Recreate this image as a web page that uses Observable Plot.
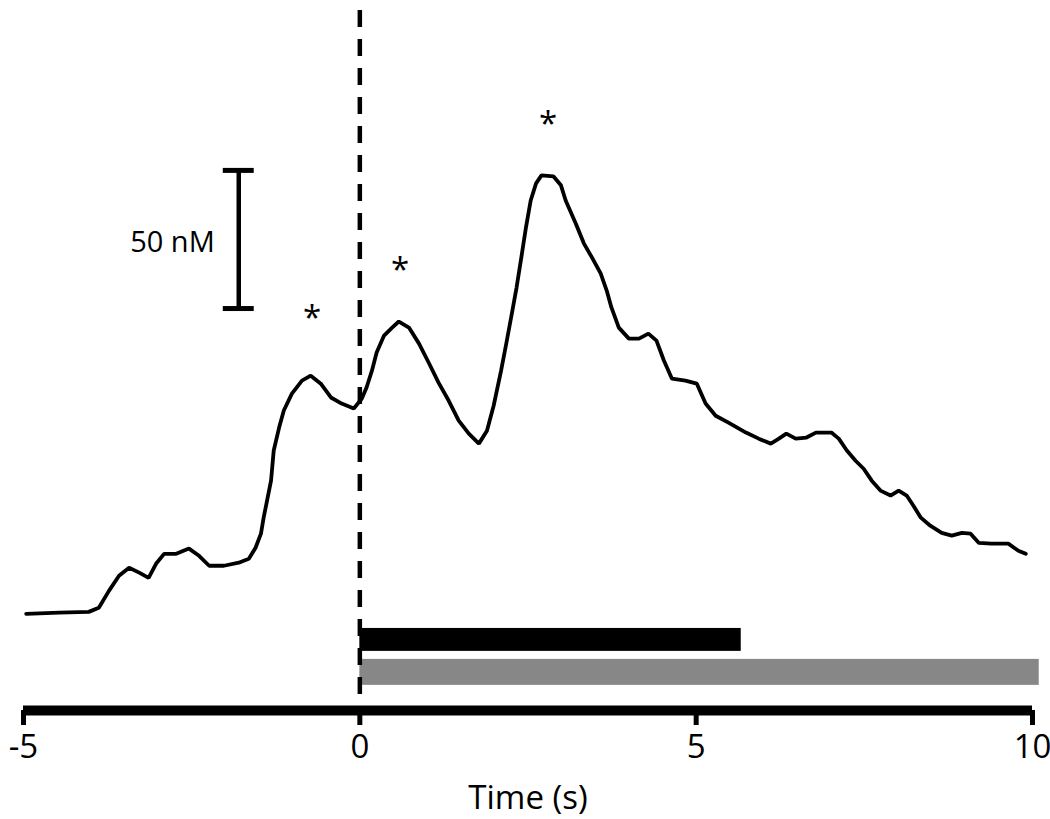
<!DOCTYPE html>
<html>
<head>
<meta charset="utf-8">
<script src="https://cdn.jsdelivr.net/npm/d3@7"></script>
<script src="https://cdn.jsdelivr.net/npm/@observablehq/plot@0.6"></script>
<style>
  html, body { margin: 0; padding: 0; background: #fff; }
  #chart svg { display: block; }
</style>
</head>
<body>
<div id="chart"></div>
<script>
// ---- Data ----
const time = [
  -4.96, -4.47, -4.03, -3.88, -3.73, -3.58, -3.43, -3.28, -3.14, -3.03, -2.91, -2.73, -2.54, -2.39,
  -2.24, -2.02, -1.80, -1.65, -1.55, -1.47, -1.43, -1.38, -1.32, -1.28, -1.20, -1.13, -1.01, -0.86,
  -0.73, -0.58, -0.43, -0.27, -0.09, 0.03, 0.10, 0.18, 0.25, 0.36, 0.48, 0.58, 0.73, 0.88, 1.03,
  1.17, 1.32, 1.47, 1.62, 1.77, 1.89, 1.99, 2.10, 2.18, 2.26, 2.33, 2.41, 2.47, 2.54, 2.62, 2.70,
  2.88, 2.99, 3.06, 3.21, 3.33, 3.45, 3.58, 3.67, 3.74, 3.85, 4.00, 4.15, 4.29, 4.41, 4.52, 4.64,
  4.84, 5.01, 5.14, 5.29, 5.48, 5.74, 5.93, 6.11, 6.23, 6.34, 6.48, 6.64, 6.78, 7.01, 7.12, 7.24,
  7.37, 7.49, 7.61, 7.74, 7.89, 8.01, 8.13, 8.23, 8.34, 8.48, 8.65, 8.80, 8.95, 9.08, 9.20, 9.39,
  9.64, 9.79, 9.90
];
const conc = [
  0, 0.4, 0.7, 2.2, 8.3, 13.8, 16.7, 14.9, 13.0, 18.1, 21.7, 21.7, 23.6, 21.0,
  17.4, 17.4, 18.5, 19.9, 23.9, 29.0, 34.8, 40.9, 48.2, 59.1, 67.4, 73.6, 79.7, 84.4,
  86.2, 83.3, 78.3, 76.1, 74.3, 77.9, 81.9, 88.0, 94.6, 100.7, 103.6, 105.8, 103.6, 97.8, 90.6,
  83.7, 77.2, 69.9, 65.2, 61.6, 66.3, 75.4, 88.0, 98.2, 108.7, 118.1, 130.4, 139.9, 149.6, 155.8, 158.7,
  158.3, 155.1, 149.6, 141.3, 134.1, 129.0, 123.2, 117.0, 110.9, 103.6, 99.6, 99.6, 101.4, 98.9, 91.7, 85.1,
  84.4, 83.3, 76.1, 71.7, 69.2, 65.6, 63.4, 61.6, 63.4, 65.2, 63.4, 63.8, 65.6, 65.6, 63.4, 59.1,
  55.4, 52.5, 48.2, 44.6, 42.8, 44.6, 42.8, 39.1, 34.8, 31.9, 29.3, 28.3, 29.3, 29.0, 25.7, 25.4,
  25.4, 22.8, 21.7
];

// stimulus bars (seconds)
const barNames = ["stim1", "stim2"];
const barStart = [0, 0];
const barEnd = [5.67, 10.1];

// x ticks
const tickValues = [-5, 0, 5, 10];
const tickLabels = ["-5", "0", "5", "10"];
const xLabel = "Time (s)";

// scale bar (nM)
const scaleBarTime = -1.8;
const scaleBarBase = 110.5;
const scaleBarSize = 50;
const scaleBarLabel = "50 nM";

// significance markers (time, level of marker in nM)
const starTime = [-0.71, 0.6, 2.8];
const starConc = [88.5, 105.8, 158.7];

// ---- Build tables ----
const trace = time.map((t, i) => ({t, c: conc[i]}));
const bars = barNames.map((n, i) => ({name: n, start: barStart[i], end: barEnd[i]}));
const stars = starTime.map((t, i) => ({t, c: starConc[i]}));

// presentation
const barRows = {stim1: [-5.3, -13.6], stim2: [-16.5, -25.9]};
const barFill = {stim1: "#000000", stim2: "#878787"};
const yMin = -35, yMax = 222;

const chart = Plot.plot({
  width: 1050,
  height: 819,
  marginTop: 0,
  marginBottom: 109,
  marginLeft: 23,
  marginRight: 18,
  style: {fontFamily: "'Open Sans', sans-serif", background: "#fff", color: "#000"},
  x: {domain: [-5, 10]},
  y: {domain: [yMin, yMax], axis: null},
  marks: [
    Plot.rect(bars, {
      x1: "start", x2: "end",
      y1: d => barRows[d.name][0], y2: d => barRows[d.name][1],
      fill: d => barFill[d.name]
    }),
    Plot.ruleX([0], {stroke: "#000", strokeWidth: 4.5, strokeDasharray: "17,12", strokeDashoffset: 19}),
    Plot.line(trace, {x: "t", y: "c", stroke: "#000", strokeWidth: 3.8, strokeLinejoin: "miter"}),
    Plot.ruleY([yMin], {stroke: "#000", strokeWidth: 10}),
    Plot.axisX({
      ticks: tickValues,
      tickFormat: (d) => tickLabels[tickValues.indexOf(d)],
      tickSize: 15,
      tickPadding: 9,
      strokeWidth: 5,
      fontSize: 33,
      label: null
    }),
    Plot.text([xLabel], {frameAnchor: "bottom", dy: 75, lineAnchor: "top", fontSize: 33, fill: "#000"}),
    // scale bar
    Plot.ruleX([scaleBarTime], {y1: scaleBarBase, y2: scaleBarBase + scaleBarSize, stroke: "#000", strokeWidth: 4.5}),
    Plot.ruleY([scaleBarBase, scaleBarBase + scaleBarSize], {x1: scaleBarTime - 0.23, x2: scaleBarTime + 0.23, stroke: "#000", strokeWidth: 5}),
    Plot.text([scaleBarLabel], {x: scaleBarTime, y: scaleBarBase + scaleBarSize / 2, textAnchor: "end", dx: -24, dy: 3, fontSize: 29, fill: "#000"}),
    // asterisks
    Plot.text(stars, {x: "t", y: "c", text: () => "*", dy: -51, fontSize: 33, fill: "#000"})
  ]
});
document.getElementById("chart").appendChild(chart);
</script>
</body>
</html>
